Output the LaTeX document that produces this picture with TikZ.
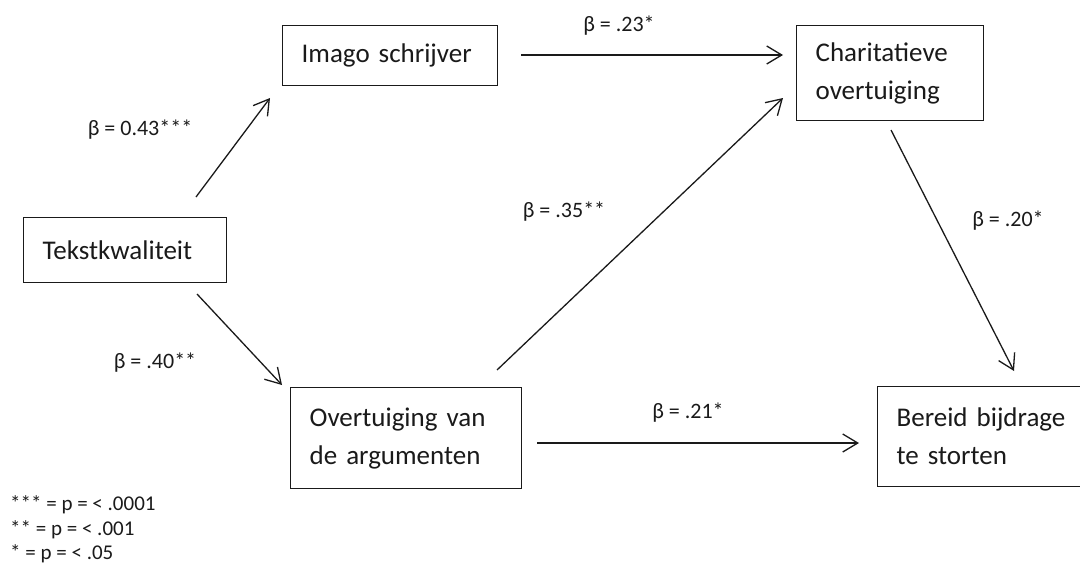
\documentclass[tikz,border=0pt]{standalone}
\usepackage{fontspec}
\setmainfont{Carlito}
\usetikzlibrary{arrows.meta}
\definecolor{ink}{HTML}{1A1A1A}
\begin{document}
\begin{tikzpicture}[x=1pt,y=-1pt,
  box/.style={draw=ink, line width=1.3pt, anchor=north west, inner xsep=19pt, inner ysep=0pt,
    align=left, text=ink, font=\fontsize{27}{38}\selectfont},
  coef/.style={text=ink, inner sep=0pt, font=\fontsize{22}{26}\selectfont},
  legend/.style={text=ink, inner sep=0pt, anchor=base west, font=\fontsize{21}{26}\selectfont},
  arr/.style={draw=ink, line width=1.3pt, -{Straight Barb[length=15pt,width=18pt,line width=1.3pt]}}]
\useasboundingbox (0,0) rectangle (1080,565);
\clip (0,0) rectangle (1080,565);
\fill[white] (0,0) rectangle (1080,565);

% variables of the path model
\node[box, text width=177pt, minimum height=60pt]  (imago)  at (282,25)  {Imago schrijver};
\node[box, text width=165pt, minimum height=65pt]  (tekst)  at (23,217)  {Tekstkwaliteit};
\node[box, text width=149pt, minimum height=95pt]  (charit) at (796,25)  {Charitatieve\\overtuiging};
\node[box, text width=193pt, minimum height=101pt] (overt)  at (290,387) {Overtuiging van\\de argumenten};
\node[box, text width=182pt, minimum height=100pt] (bereid) at (877,386) {Bereid bijdrage\\te storten};

% end points of the paths, set off from the boxes
\coordinate (tekstUp)   at (196,197);
\coordinate (imagoIn)   at (270,98);
\coordinate (tekstDown) at (197,294);
\coordinate (overtIn)   at (282,385);
\coordinate (imagoOut)  at (521,55);
\coordinate (charitInA) at (783,55);
\coordinate (overtUp)   at (497,370);
\coordinate (charitInB) at (783,98);
\coordinate (charitOut) at (891,130);
\coordinate (bereidInA) at (1014,371);
\coordinate (overtOut)  at (537,443);
\coordinate (bereidInB) at (859,443);

% paths
\draw[arr] (tekstUp) -- (imagoIn);
\draw[arr] (tekstDown) -- (overtIn);
\draw[arr] (imagoOut) -- (charitInA);
\draw[arr] (overtUp) -- (charitInB);
\draw[arr] (charitOut) -- (bereidInA);
\draw[arr] (overtOut) -- (bereidInB);

% path coefficients
\node[coef] (c1) at (140,130) {β = 0.43***};
\node[coef] (c2) at (155,363) {β = .40**};
\node[coef] (c3) at (619,26)  {β = .23*};
\node[coef] (c4) at (564,212) {β = .35**};
\node[coef] (c5) at (1008,221) {β = .20*};
\node[coef] (c6) at (688,413) {β = .21*};

% significance levels
\node[legend] (s1) at (10,510) {*** = p = < .0001};
\node[legend] (s2) at (10,535) {** = p = < .001};
\node[legend] (s3) at (10,559) {* = p = < .05};
\end{tikzpicture}
\end{document}
